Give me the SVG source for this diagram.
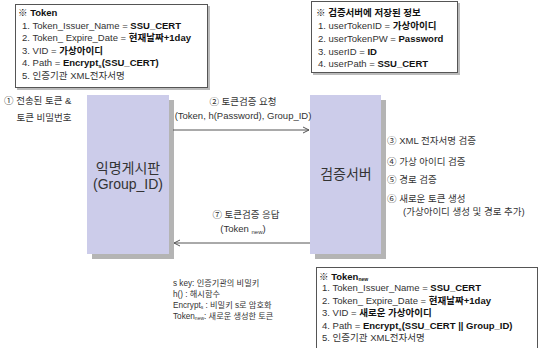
<svg xmlns="http://www.w3.org/2000/svg" width="538" height="348" viewBox="0 0 538 348">
<style>
text{font-family:"Liberation Sans","Noto Sans CJK KR",sans-serif;fill:#333}
.t{font-size:9.5px}
.b{font-weight:bold;fill:#111}
.box{fill:#fff;stroke:#555;stroke-width:1}
.sh{fill:#bbb}
.node{fill:#ccccea}
.nsh{fill:#b4b4b4}
.nl{font-size:14px;text-anchor:middle;fill:#333}
.lab{font-size:9.5px}
.leg{font-size:8.2px}
.c{text-anchor:middle}
.ln{stroke:#555;stroke-width:1;fill:none}
</style>
<defs>
<marker id="ah" markerWidth="8" markerHeight="8" refX="7" refY="4" orient="auto" markerUnits="userSpaceOnUse">
<polyline points="1,1 7,4 1,7" fill="none" stroke="#555" stroke-width="1"/>
</marker>
</defs>

<g id="token-box">
<rect class="sh" x="17" y="6" width="193" height="84"/>
<rect class="box" x="15.5" y="4.5" width="192" height="83"/>
<text class="t b" x="18" y="16">※ Token</text>
<text class="t" x="22" y="28.5">1. Token_Issuer_Name = <tspan class="b">SSU_CERT</tspan></text>
<text class="t" x="22" y="41">2. Token_ Expire_Date = <tspan class="b">현재날짜+1day</tspan></text>
<text class="t" x="22" y="53.5">3. VID = <tspan class="b">가상아이디</tspan></text>
<text class="t" x="22" y="66">4. Path = <tspan class="b">Encrypt<tspan font-size="6" dy="2">s</tspan><tspan dy="-2">(SSU_CERT)</tspan></tspan></text>
<text class="t" x="22" y="78.5">5. 인증기관 XML전자서명</text>
</g>

<g id="server-info-box">
<rect class="sh" x="313" y="3" width="147" height="72"/>
<rect class="box" x="311.5" y="1.5" width="146" height="71"/>
<text class="t b" x="316" y="16">※ 검증서버에 저장된 정보</text>
<text class="t" x="318" y="28.5">1. userTokenID = <tspan class="b">가상아이디</tspan></text>
<text class="t" x="318" y="41.5">2. userTokenPW = <tspan class="b">Password</tspan></text>
<text class="t" x="318" y="54.5">3. userID = <tspan class="b">ID</tspan></text>
<text class="t" x="318" y="67">4. userPath = <tspan class="b">SSU_CERT</tspan></text>
</g>

<g id="token-new-box">
<rect class="sh" x="318" y="269" width="222" height="82"/>
<rect class="box" x="316.5" y="267.5" width="221" height="82"/>
<text class="t b" x="319" y="279.5">※ Token<tspan font-size="5" dy="1">new</tspan></text>
<text class="t" x="322" y="291">1. Token_Issuer_Name = <tspan class="b">SSU_CERT</tspan></text>
<text class="t" x="322" y="303.5">2. Token_ Expire_Date = <tspan class="b">현재날짜+1day</tspan></text>
<text class="t" x="322" y="316">3. VID = <tspan class="b">새로운 가상아이디</tspan></text>
<text class="t" x="322" y="328.5">4. Path = <tspan class="b">Encrypt<tspan font-size="6" dy="2">s</tspan><tspan dy="-2">(SSU_CERT ||  Group_ID)</tspan></tspan></text>
<text class="t" x="322" y="341">5. 인증기관 XML전자서명</text>
</g>

<g id="client-note">
<text class="lab" x="4" y="104">① 전송된 토큰 &amp;</text>
<text class="lab c" x="44" y="121">토큰 비밀번호</text>
</g>

<g id="anon-board">
<rect class="nsh" x="92" y="100" width="82" height="159"/>
<rect class="node" x="87" y="95" width="82" height="159"/>
<text class="nl" x="128" y="173">익명게시판</text>
<text class="nl" x="128" y="189">(Group_ID)</text>
</g>

<g id="verify-server">
<rect class="nsh" x="315" y="100" width="71" height="159"/>
<rect class="node" x="310" y="95" width="71" height="159"/>
<text class="nl" x="346" y="179">검증서버</text>
</g>

<g id="server-steps">
<text class="lab" x="387" y="144">③ XML 전자서명 검증</text>
<text class="lab" x="387" y="164.5">④ 가상 아이디 검증</text>
<text class="lab" x="387" y="183">⑤ 경로 검증</text>
<text class="lab" x="387" y="201.5">⑥ 새로운 토큰 생성</text>
<text class="lab" x="403" y="214.5">(가상아이디 생성 및 경로 추가)</text>
</g>

<g id="connectors">
<line class="ln" x1="173" y1="130" x2="309" y2="130" marker-end="url(#ah)"/>
<line class="ln" x1="310" y1="243" x2="174" y2="243" marker-end="url(#ah)"/>
<text class="lab c" x="243" y="105">② 토큰검증 요청</text>
<text class="lab c" x="243" y="119">(Token, h(Password), Group_ID)</text>
<text class="lab c" x="246" y="218">⑦ 토큰검증 응답</text>
<text class="lab c" x="243" y="231.5">(Token <tspan font-size="6" dy="2">new</tspan><tspan dy="-2">)</tspan></text>
</g>

<g id="legend">
<text class="leg" x="173" y="286">s key: 인증기관의 비밀키</text>
<text class="leg" x="173" y="297">h() : 해시함수</text>
<text class="leg" x="173" y="307.5">Encrypt<tspan font-size="5" dy="1.5">s</tspan><tspan dy="-1.5"> : 비밀키 s로 암호화</tspan></text>
<text class="leg" x="173" y="318.5">Token<tspan font-size="5" dy="1.5">new</tspan><tspan dy="-1.5">: 새로운 생성한 토큰</tspan></text>
</g>
</svg>
